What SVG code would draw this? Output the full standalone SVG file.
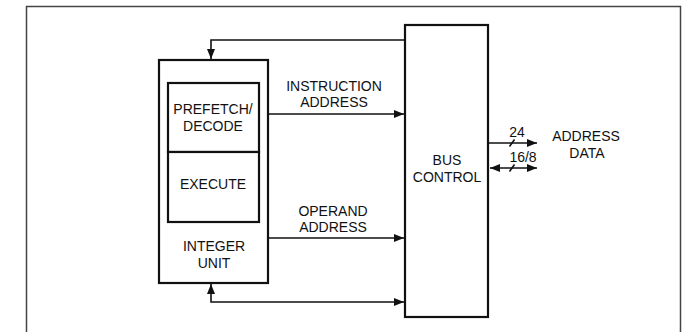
<svg xmlns="http://www.w3.org/2000/svg" width="684" height="332" viewBox="0 0 684 332">
<style>
text{font-family:"Liberation Sans",Arial,sans-serif;font-size:14px;fill:#111;text-anchor:middle}
.box{fill:#fff;stroke:#111;stroke-width:2.2}
.ln{fill:none;stroke:#111;stroke-width:1.6}
.frame{fill:none;stroke:#444;stroke-width:1.5}
</style>
<defs>
<marker id="ah" viewBox="0 0 10 8" refX="10" refY="4" markerWidth="10" markerHeight="8" markerUnits="userSpaceOnUse" orient="auto-start-reverse">
<path d="M0,0 L10,4 L0,8 Z" fill="#111"/>
</marker>
</defs>
<rect width="684" height="332" fill="#fff"/>
<path class="frame" d="M26.5,332 V6.5 H680.5 V332"/>
<g id="integer-unit">
<rect class="box" x="159" y="60" width="109" height="223"/>
<text x="214" y="251">INTEGER</text>
<text x="214" y="268">UNIT</text>
</g>
<g id="prefetch-decode">
<rect class="box" x="168" y="83" width="91" height="69"/>
<text x="213" y="114">PREFETCH/</text>
<text x="213" y="131">DECODE</text>
</g>
<g id="execute">
<rect class="box" x="168" y="152" width="91" height="70"/>
<text x="213" y="189">EXECUTE</text>
</g>
<g id="bus-control">
<rect class="box" x="405" y="25" width="83" height="292"/>
<text x="447" y="165">BUS</text>
<text x="447" y="182">CONTROL</text>
</g>
<g id="external">
<text x="586" y="141">ADDRESS</text>
<text x="587" y="158">DATA</text>
</g>
<g id="connectors">
<path class="ln" d="M405,40 H211 V59" marker-end="url(#ah)"/>
<path class="ln" d="M269,114 H404" marker-end="url(#ah)"/>
<text x="334" y="91">INSTRUCTION</text>
<text x="334" y="107">ADDRESS</text>
<path class="ln" d="M269,238 H404" marker-end="url(#ah)"/>
<text x="333" y="216">OPERAND</text>
<text x="333" y="232">ADDRESS</text>
<path class="ln" d="M211,284 V302 H404" marker-start="url(#ah)" marker-end="url(#ah)"/>
<path class="ln" d="M489,143 H537" marker-end="url(#ah)"/>
<path class="ln" d="M509.5,146.5 L514.5,139.5"/>
<text x="517" y="137">24</text>
<path class="ln" d="M490,168 H537" marker-start="url(#ah)" marker-end="url(#ah)"/>
<path class="ln" d="M509.5,171.5 L514.5,164.5"/>
<text x="523" y="162">16/8</text>
</g>
</svg>
